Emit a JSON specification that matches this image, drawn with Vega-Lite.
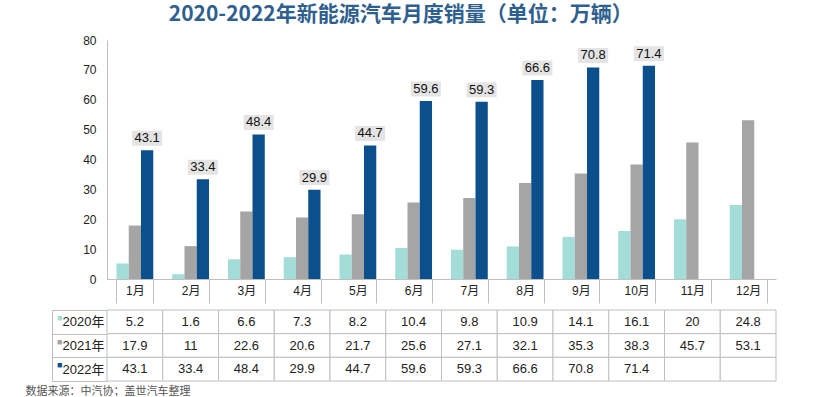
{
  "$schema": "https://vega.github.io/schema/vega-lite/v6.json",
  "padding": {"left": 25, "top": 4, "right": 5, "bottom": 0},
  "background": "white",
  "title": {"text": "2020-2022年新能源汽车月度销量（单位：万辆）", "fontSize": 21, "font": "Noto Sans CJK SC", "fontWeight": "bold", "color": "#2f5f8f", "anchor": "middle", "offset": 9},
  "config": {"view": {"stroke": null}, "font": "Liberation Sans, Noto Sans CJK SC"},
  "spacing": 0,
  "data": {"values": [
    {"month": "1月", "series": "2020年", "value": 5.2},
    {"month": "2月", "series": "2020年", "value": 1.6},
    {"month": "3月", "series": "2020年", "value": 6.6},
    {"month": "4月", "series": "2020年", "value": 7.3},
    {"month": "5月", "series": "2020年", "value": 8.2},
    {"month": "6月", "series": "2020年", "value": 10.4},
    {"month": "7月", "series": "2020年", "value": 9.8},
    {"month": "8月", "series": "2020年", "value": 10.9},
    {"month": "9月", "series": "2020年", "value": 14.1},
    {"month": "10月", "series": "2020年", "value": 16.1},
    {"month": "11月", "series": "2020年", "value": 20},
    {"month": "12月", "series": "2020年", "value": 24.8},
    {"month": "1月", "series": "2021年", "value": 17.9},
    {"month": "2月", "series": "2021年", "value": 11},
    {"month": "3月", "series": "2021年", "value": 22.6},
    {"month": "4月", "series": "2021年", "value": 20.6},
    {"month": "5月", "series": "2021年", "value": 21.7},
    {"month": "6月", "series": "2021年", "value": 25.6},
    {"month": "7月", "series": "2021年", "value": 27.1},
    {"month": "8月", "series": "2021年", "value": 32.1},
    {"month": "9月", "series": "2021年", "value": 35.3},
    {"month": "10月", "series": "2021年", "value": 38.3},
    {"month": "11月", "series": "2021年", "value": 45.7},
    {"month": "12月", "series": "2021年", "value": 53.1},
    {"month": "1月", "series": "2022年", "value": 43.1},
    {"month": "2月", "series": "2022年", "value": 33.4},
    {"month": "3月", "series": "2022年", "value": 48.4},
    {"month": "4月", "series": "2022年", "value": 29.9},
    {"month": "5月", "series": "2022年", "value": 44.7},
    {"month": "6月", "series": "2022年", "value": 59.6},
    {"month": "7月", "series": "2022年", "value": 59.3},
    {"month": "8月", "series": "2022年", "value": 66.6},
    {"month": "9月", "series": "2022年", "value": 70.8},
    {"month": "10月", "series": "2022年", "value": 71.4},
    {"month": "11月", "series": "2022年", "value": null},
    {"month": "12月", "series": "2022年", "value": null}
  ]},
  "vconcat": [
    {
      "width": 669,
      "height": 239,
      "encoding": {
        "x": {
          "field": "month", "type": "nominal",
          "sort": ["1月","2月","3月","4月","5月","6月","7月","8月","9月","10月","11月","12月"],
          "scale": {"paddingInner": 0.34, "paddingOuter": 0.17},
          "axis": {"title": null, "labelAngle": 0, "tickBand": "extent", "tickSize": 24, "labelPadding": -18, "tickColor": "#bfbfbf", "domainColor": "#bfbfbf", "labelFontSize": 12, "labelColor": "#222", "minExtent": 24, "maxExtent": 24}
        },
        "xOffset": {"field": "series", "type": "nominal", "scale": {"domain": ["2020年","2021年","2022年"]}},
        "y": {"field": "value", "type": "quantitative", "scale": {"domain": [0, 80]},
              "axis": {"title": null, "values": [0,10,20,30,40,50,60,70,80], "labelOverlap": false, "grid": false, "ticks": false, "domainColor": "#bfbfbf", "labelFontSize": 12, "labelColor": "#222", "labelPadding": 11}}
      },
      "layer": [
        {
          "mark": {"type": "bar"},
          "transform": [{"filter": "datum.value != null"}],
          "encoding": {
            "color": {"field": "series", "type": "nominal", "scale": {"domain": ["2020年","2021年","2022年"], "range": ["#a3ddd8", "#a5a5a5", "#0b4f8c"]}, "legend": null}
          }
        },
        {
          "mark": {"type": "point", "shape": "M-1,-0.5H1V0.5H-1Z", "filled": true, "color": "#e4e4e4", "opacity": 1, "size": 900, "yOffset": -12},
          "transform": [{"filter": "datum.series == '2022年' && datum.value != null"}],
          "encoding": {}
        },
        {
          "mark": {"type": "text", "yOffset": -12, "fontSize": 13, "color": "#111"},
          "transform": [{"filter": "datum.series == '2022年' && datum.value != null"}],
          "encoding": {
            "text": {"field": "value", "type": "nominal"}
          }
        }
      ]
    },
    {
      "width": 669,
      "height": 71,
      "encoding": {
        "x": {
          "field": "month", "type": "nominal",
          "sort": ["1月","2月","3月","4月","5月","6月","7月","8月","9月","10月","11月","12月"],
          "scale": {"paddingInner": 0, "paddingOuter": 0},
          "axis": {"title": "数据来源：中汽协；盖世汽车整理", "labels": false, "ticks": false, "domain": false, "titleX": -82, "titleY": 4, "titleAlign": "left", "titleAnchor": "start", "titleBaseline": "top", "titleFontSize": 11, "titleFontWeight": "normal", "titleColor": "#555"}
        }
      },
      "layer": [
        {
          "mark": {"type": "rect", "fill": "white", "stroke": "#bfbfbf", "strokeWidth": 1},
          "encoding": {
            "y": {"field": "series", "type": "nominal", "sort": ["2020年","2021年","2022年"],
                  "scale": {"paddingInner": 0, "paddingOuter": 0},
                  "axis": {"orient": "left", "title": null, "offset": 55, "domain": true, "domainColor": "#bfbfbf", "ticks": false, "labelExpr": "'■'", "labelFontSize": 9, "labelPadding": -10, "labelOffset": -4,
                           "labelColor": {"expr": "datum.value == '2020年' ? '#a3ddd8' : datum.value == '2021年' ? '#a5a5a5' : '#0b4f8c'"}}}
          }
        },
        {
          "mark": {"type": "text", "fontSize": 13, "color": "#222"},
          "transform": [{"filter": "datum.value != null"}],
          "encoding": {
            "y": {"field": "series", "type": "nominal", "sort": ["2020年","2021年","2022年"],
                  "axis": {"orient": "left", "title": null, "offset": 0, "domain": false, "ticks": true, "tickBand": "extent", "tickSize": 55, "tickColor": "#bfbfbf", "labelPadding": -52, "labelFontSize": 13, "labelColor": "#222"}},
            "text": {"field": "value", "type": "nominal"}
          }
        }
      ],
      "resolve": {"axis": {"y": "independent"}}
    }
  ]
}
